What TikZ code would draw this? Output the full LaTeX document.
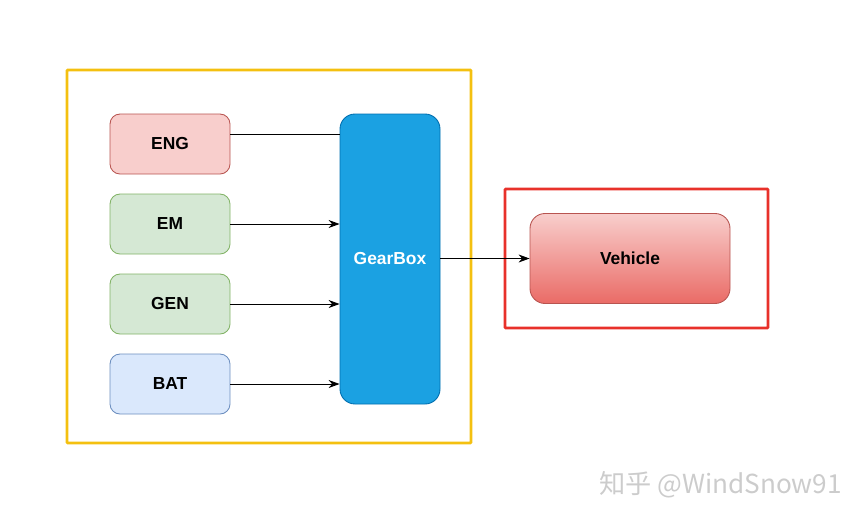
\documentclass[tikz,border=0pt]{standalone}
\usepackage{fontspec}
\setmainfont{Liberation Sans}
\newfontfamily\cjk{Noto Sans CJK SC}
\usetikzlibrary{arrows.meta}
\definecolor{engfill}{HTML}{F8CECC}
\definecolor{engline}{HTML}{B85450}
\definecolor{emfill}{HTML}{D5E8D4}
\definecolor{emline}{HTML}{82B366}
\definecolor{batfill}{HTML}{DAE8FC}
\definecolor{batline}{HTML}{6C8EBF}
\definecolor{gbfill}{HTML}{1BA1E2}
\definecolor{gbline}{HTML}{006EAF}
\definecolor{vehbot}{HTML}{EA6B66}
\definecolor{frameyel}{HTML}{F4C010}
\definecolor{framered}{HTML}{E8312A}
\begin{document}
\begin{tikzpicture}[>={Stealth[length=2.2mm,width=1.6mm]}, font=\fontsize{9.9}{12}\selectfont\bfseries,
  unit/.style={draw, rounded corners=0.2cm, minimum width=2.4cm, minimum height=1.2cm, line width=0.5pt},
  frame/.style={line width=1.6pt, rounded corners=0.5pt},
  link/.style={line width=0.5pt}]
\useasboundingbox (0,0) rectangle (17.36,-10.36);
% frames
\draw[frame, frameyel] (1.34,-1.40) rectangle (9.42,-8.86);
\draw[frame, framered] (10.10,-3.78) rectangle (15.36,-6.56);
% power sources
\node[unit, fill=engfill, draw=engline] (eng) at (3.4,-2.88) {ENG};
\node[unit, fill=emfill, draw=emline] (em) at (3.4,-4.48) {EM};
\node[unit, fill=emfill, draw=emline] (gen) at (3.4,-6.08) {GEN};
\node[unit, fill=batfill, draw=batline] (bat) at (3.4,-7.68) {BAT};
% gearbox and vehicle
\node[draw=gbline, fill=gbfill, text=white, rounded corners=0.3cm, minimum width=2cm, minimum height=5.8cm, line width=0.5pt] (gb) at (7.8,-5.18) {GearBox};
\node[draw=engline, top color=engfill, bottom color=vehbot, rounded corners=0.3cm, minimum width=4cm, minimum height=1.8cm, line width=0.5pt] (veh) at (12.6,-5.17) {Vehicle};
% links
\coordinate (engout) at ([yshift=0.2cm]eng.east);
\draw[link] (engout) -- (engout -| gb.west);
\draw[link, ->] (em) -- (em -| gb.west);
\draw[link, ->] (gen) -- (gen -| gb.west);
\draw[link, ->] (bat) -- (bat -| gb.west);
\draw[link, ->] (gb.east |- veh) -- (veh);
% watermark
\node[text=black!20, font=\fontsize{14.9}{16}\selectfont, anchor=west] (mark) at (11.86,-9.70) {\cjk 知乎 @WindSnow91};
\end{tikzpicture}
\end{document}
